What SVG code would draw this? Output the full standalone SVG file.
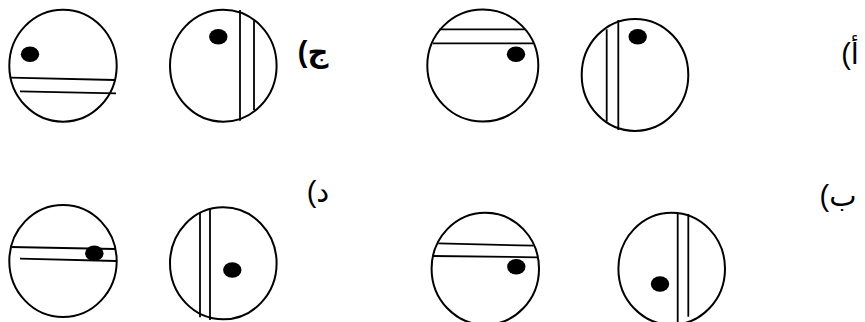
<svg xmlns="http://www.w3.org/2000/svg" width="865" height="322" viewBox="0 0 865 322">
<style>
.c{fill:none;stroke:#000;stroke-width:2}
.l{stroke:#000;stroke-width:1.8;fill:none}
.d{fill:#000}
.t{font-family:"Liberation Sans","DejaVu Sans",sans-serif;font-size:29px;fill:#000;text-anchor:middle}
.b{font-weight:bold;font-size:29px}
</style>
<rect width="865" height="322" fill="#fff"/>
<g id="c1">
<ellipse class="c" cx="63" cy="65.7" rx="53.7" ry="56"/>
<line class="l" x1="10.7" y1="77.7" x2="115" y2="80"/>
<line class="l" x1="20" y1="91.3" x2="116" y2="93.3"/>
<ellipse class="d" cx="30" cy="54.3" rx="9.2" ry="7.8"/>
</g>
<g id="c2">
<ellipse class="c" cx="223.3" cy="65.7" rx="53.3" ry="56"/>
<line class="l" x1="240" y1="10" x2="240" y2="120.7"/>
<line class="l" x1="254" y1="20.7" x2="254" y2="110"/>
<ellipse class="d" cx="218.3" cy="36.7" rx="9.2" ry="7.8"/>
</g>
<g id="c3">
<ellipse class="c" cx="482.8" cy="65.5" rx="55.5" ry="56"/>
<line class="l" x1="439.3" y1="29.3" x2="525" y2="29.3"/>
<line class="l" x1="432.7" y1="43.3" x2="533.3" y2="43.3"/>
<ellipse class="d" cx="516" cy="54.3" rx="9.2" ry="7.8"/>
</g>
<g id="c4">
<ellipse class="c" cx="635" cy="74.9" rx="53.3" ry="56"/>
<line class="l" x1="606.7" y1="29.3" x2="606.7" y2="121.7"/>
<line class="l" x1="618.3" y1="20" x2="618.3" y2="130"/>
<ellipse class="d" cx="637.7" cy="36.7" rx="9.2" ry="7.8"/>
</g>
<g id="c5">
<ellipse class="c" cx="63" cy="261" rx="53.7" ry="56"/>
<line class="l" x1="10.7" y1="247" x2="115" y2="249"/>
<line class="l" x1="20" y1="258.7" x2="116" y2="261"/>
<ellipse class="d" cx="94.3" cy="253.3" rx="9.2" ry="7.8"/>
</g>
<g id="c6">
<ellipse class="c" cx="223.3" cy="263.3" rx="53.3" ry="56"/>
<line class="l" x1="200" y1="212.7" x2="200" y2="317.3"/>
<line class="l" x1="210" y1="208.3" x2="210" y2="320"/>
<ellipse class="d" cx="232.3" cy="270" rx="9.2" ry="7.8"/>
</g>
<g id="c7">
<ellipse class="c" cx="485.3" cy="268.7" rx="53.7" ry="56"/>
<line class="l" x1="438.3" y1="243.3" x2="533.3" y2="245.7"/>
<line class="l" x1="432.7" y1="256" x2="537.3" y2="257.3"/>
<ellipse class="d" cx="516.3" cy="266.7" rx="9.2" ry="7.8"/>
</g>
<g id="c8">
<ellipse class="c" cx="671.7" cy="268.7" rx="53.3" ry="56"/>
<line class="l" x1="677.7" y1="213.3" x2="677.7" y2="322"/>
<line class="l" x1="688.3" y1="214" x2="688.3" y2="316.7"/>
<ellipse class="d" cx="660" cy="284" rx="9.2" ry="7.8"/>
</g>
<g id="labels">
<text class="t" x="850" y="64" direction="rtl">أ)</text>
<text class="t" x="838" y="206" direction="rtl">ب)</text>
<text class="t b" x="313" y="62" direction="rtl">ج)</text>
<text class="t" x="318" y="202" direction="rtl">د)</text>
</g>
<g id="connectors"></g>
</svg>
